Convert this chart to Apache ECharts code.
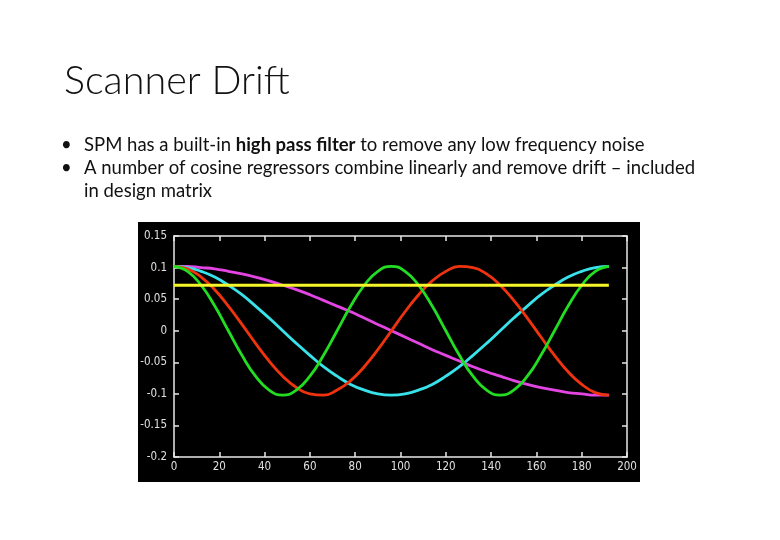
<!DOCTYPE html>
<html>
<head>
<meta charset="utf-8">
<title>Scanner Drift</title>
<script src="https://cdn.jsdelivr.net/npm/echarts@6/dist/echarts.min.js"></script>
<style>
  html, body { margin: 0; padding: 0; background: #fff; }
  #main { width: 780px; height: 540px; }
</style>
</head>
<body>
<div id="main"></div>
<script>
// scan index (x) and the cosine regressors
var scans = [0, 6, 12, 18, 24, 30, 36, 42, 48, 54, 60, 66, 72, 78, 84, 90, 96,
             102, 108, 114, 120, 126, 132, 138, 144, 150, 156, 162, 168, 174, 180, 186, 192];
var magenta = [0.102, 0.102, 0.100, 0.098, 0.094, 0.090, 0.085, 0.079, 0.072, 0.065, 0.057, 0.048, 0.039, 0.030, 0.020, 0.010, 0,
               -0.010, -0.020, -0.030, -0.039, -0.048, -0.057, -0.065, -0.072, -0.079, -0.085, -0.090, -0.094, -0.098, -0.100, -0.102, -0.102];
var cyan = [0.102, 0.100, 0.094, 0.085, 0.072, 0.057, 0.039, 0.020, 0, -0.020, -0.039, -0.057, -0.072, -0.085, -0.094, -0.100, -0.102,
            -0.100, -0.094, -0.085, -0.072, -0.057, -0.039, -0.020, 0, 0.020, 0.039, 0.057, 0.072, 0.085, 0.094, 0.100, 0.102];
var red = [0.102, 0.098, 0.085, 0.065, 0.039, 0.010, -0.020, -0.048, -0.072, -0.090, -0.100, -0.102, -0.094, -0.079, -0.057, -0.030, 0,
           0.030, 0.057, 0.079, 0.094, 0.102, 0.100, 0.090, 0.072, 0.048, 0.020, -0.010, -0.039, -0.065, -0.085, -0.098, -0.102];
var green = [0.102, 0.094, 0.072, 0.039, 0, -0.039, -0.072, -0.094, -0.102, -0.094, -0.072, -0.039, 0, 0.039, 0.072, 0.094, 0.102,
             0.094, 0.072, 0.039, 0, -0.039, -0.072, -0.094, -0.102, -0.094, -0.072, -0.039, 0, 0.039, 0.072, 0.094, 0.102];
var constScans = [0, 192];
var constant = [0.072, 0.072];

var bullets = [
  'SPM has a built-in {b|high pass filter} to remove any low frequency noise',
  'A number of cosine regressors combine linearly and remove drift \u2013 included',
  'in design matrix'
];

function pairs(xs, ys) {
  return xs.map(function (x, i) { return [x, ys[i]]; });
}

var textFont = 'Lato, "Open Sans", sans-serif';
var axisFont = '"DejaVu Sans Condensed", "Liberation Sans Narrow", sans-serif';
var bulletSize = 18.5;

var myChart = echarts.init(document.getElementById('main'));

function line(name, xs, ys, color) {
  return {
    name: name,
    type: 'line',
    data: pairs(xs, ys),
    smooth: true,
    symbol: 'none',
    lineStyle: { color: color, width: 2.8 },
    animation: false
  };
}

function bulletText(txt, x, y) {
  return { type: 'text', x: x, y: y, style: {
    text: txt, fontSize: bulletSize, fontFamily: textFont, fill: '#111', verticalAlign: 'middle',
    rich: { b: { fontSize: bulletSize, fontFamily: textFont, fontWeight: 'bold', fill: '#111' } } } };
}

var axisLineStyle = { color: '#e8e8e8', width: 1.5 };

var option = {
  backgroundColor: '#fff',
  animation: false,
  title: {
    text: 'Scanner Drift',
    left: 59,
    top: 56,
    textStyle: { fontFamily: textFont, fontWeight: 300, fontSize: 39.5, color: '#111' }
  },
  graphic: [
    // black figure panel
    { type: 'rect', z: -10, silent: true,
      shape: { x: 138, y: 222, width: 502, height: 260 },
      style: { fill: '#000' } },
    bulletText('\u2022', 61, 145),
    bulletText('\u2022', 61, 168),
    bulletText(bullets[0], 84, 145),
    bulletText(bullets[1], 84, 168),
    bulletText(bullets[2], 84, 191)
  ],
  grid: { left: 174, right: 153, top: 236, bottom: 83 },
  xAxis: [
    { type: 'value', min: 0, max: 200, interval: 20, position: 'bottom',
      axisLine: { show: true, onZero: false, lineStyle: axisLineStyle },
      axisTick: { show: true, inside: true, length: 5, lineStyle: axisLineStyle },
      axisLabel: { color: '#e0e0e0', fontFamily: axisFont, fontSize: 11.5, margin: 4 },
      splitLine: { show: false } },
    { type: 'value', min: 0, max: 200, interval: 20, position: 'top',
      axisLine: { show: true, onZero: false, lineStyle: axisLineStyle },
      axisTick: { show: true, inside: true, length: 5, lineStyle: axisLineStyle },
      axisLabel: { show: false },
      splitLine: { show: false } }
  ],
  yAxis: [
    { type: 'value', min: -0.2, max: 0.15, interval: 0.05, position: 'left',
      axisLine: { show: true, onZero: false, lineStyle: axisLineStyle },
      axisTick: { show: true, inside: true, length: 5, lineStyle: axisLineStyle },
      axisLabel: { color: '#e0e0e0', fontFamily: axisFont, fontSize: 11.5, margin: 7,
        formatter: function (v) { return String(+v.toFixed(2)); } },
      splitLine: { show: false } },
    { type: 'value', min: -0.2, max: 0.15, interval: 0.05, position: 'right',
      axisLine: { show: true, onZero: false, lineStyle: axisLineStyle },
      axisTick: { show: true, inside: true, length: 5, lineStyle: axisLineStyle },
      axisLabel: { show: false },
      splitLine: { show: false } }
  ],
  series: [
    line('k1', scans, magenta, '#e245e2'),
    line('k2', scans, cyan, '#38e2ea'),
    line('k3', scans, red, '#f0330f'),
    line('k4', scans, green, '#22dd22'),
    line('k0', constScans, constant, '#f5f52a')
  ]
};

myChart.setOption(option);
</script>
</body>
</html>
